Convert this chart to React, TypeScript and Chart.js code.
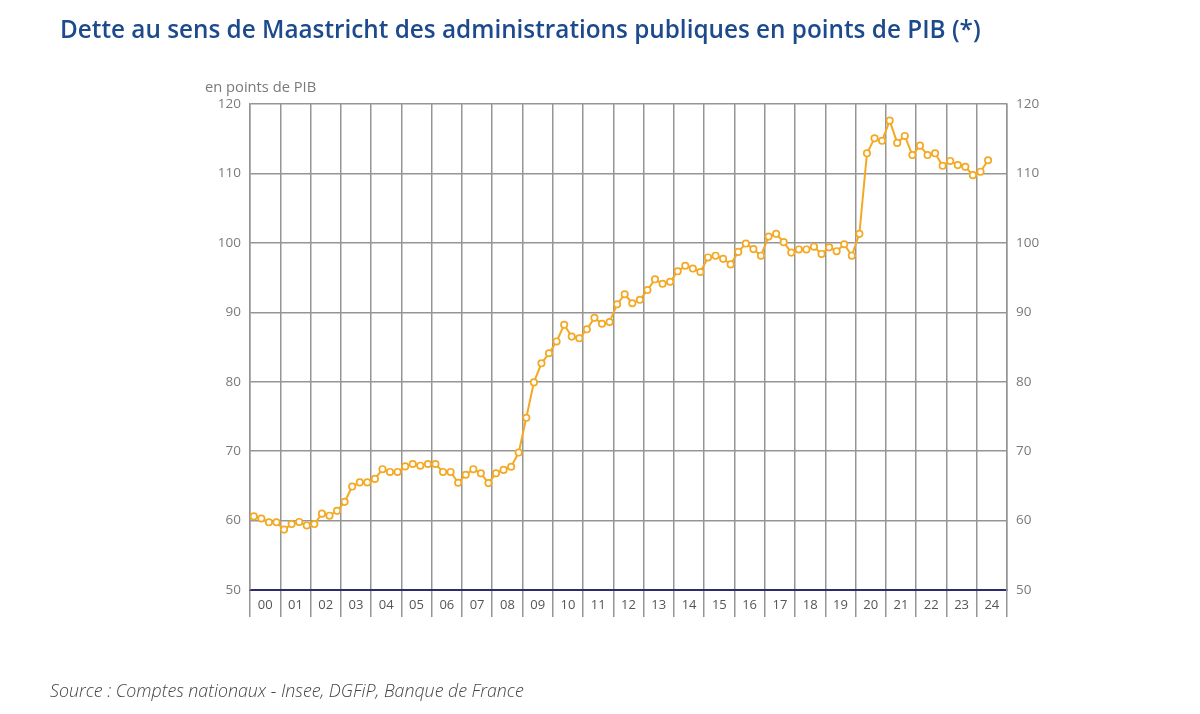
import React, { useEffect, useRef } from "react";
import { Chart, registerables } from "chart.js";

Chart.register(...registerables);

const yearLabels = ["00","01","02","03","04","05","06","07","08","09","10","11","12","13","14","15","16","17","18","19","20","21","22","23","24"];

// Quarterly debt ratio, 2000 Q1 .. 2024 Q2
const debtValues = [
  60.6, 60.3, 59.75, 59.75,
  58.7, 59.5, 59.8, 59.3,
  59.5, 61.0, 60.7, 61.4,
  62.7, 64.9, 65.5, 65.5,
  66.0, 67.4, 67.0, 67.0,
  67.8, 68.15, 67.9, 68.15,
  68.15, 67.0, 67.0, 65.45,
  66.6, 67.4, 66.8, 65.4,
  66.8, 67.3, 67.75, 69.8,
  74.8, 79.9, 82.65, 84.1,
  85.8, 88.2, 86.5, 86.25,
  87.55, 89.2, 88.35, 88.6,
  91.15, 92.6, 91.3, 91.8,
  93.2, 94.75, 94.1, 94.4,
  95.9, 96.7, 96.3, 95.8,
  97.9, 98.15, 97.7, 96.9,
  98.7, 99.9, 99.1, 98.15,
  100.9, 101.3, 100.1, 98.6,
  99.05, 99.05, 99.45, 98.4,
  99.35, 98.8, 99.8, 98.15,
  101.3, 112.9, 115.05, 114.7,
  117.6, 114.4, 115.4, 112.65,
  114.0, 112.65, 112.9, 111.1,
  111.8, 111.2, 110.95, 109.75,
  110.25, 111.9,
];

const yTicks = [50, 60, 70, 80, 90, 100, 110, 120];

const GRID = "#959595";
const NAVY = "#2d2a70";
const LINE = "#f4a925";
const TICK_COLOR = "#7a7a7a";

export default function App() {
  const ref = useRef<HTMLCanvasElement | null>(null);

  useEffect(() => {
    if (!ref.current) return;
    const points = debtValues.map((v, i) => ({ x: (i + 0.5) / 4, y: v }));
    const chart = new Chart(ref.current, {
      type: "line",
      data: {
        datasets: [
          {
            data: points,
            borderColor: LINE,
            borderWidth: 2,
            pointRadius: 3.2,
            pointBorderWidth: 1.7,
            pointBackgroundColor: "#ffffff",
            pointBorderColor: LINE,
            tension: 0,
            yAxisID: "y",
          },
        ],
      },
      options: {
        animation: false,
        responsive: false,
        maintainAspectRatio: false,
        layout: { padding: { left: 0, right: 0, top: 104, bottom: 0 } },
        plugins: { legend: { display: false }, tooltip: { enabled: false } },
        scales: {
          x: {
            type: "linear",
            min: 0,
            max: yearLabels.length,
            afterBuildTicks: (scale: any) => {
              const t: any[] = [];
              for (let i = 0; i <= yearLabels.length * 2; i++) t.push({ value: i / 2 });
              scale.ticks = t;
            },
            afterFit: (scale: any) => {
              scale.height = 124;
            },
            grid: {
              color: (ctx: any) => (Number.isInteger(ctx.tick?.value) ? GRID : "rgba(0,0,0,0)"),
              tickColor: (ctx: any) => (Number.isInteger(ctx.tick?.value) ? GRID : "rgba(0,0,0,0)"),
              lineWidth: 1.5,
              tickLength: 27,
              drawTicks: true,
            },
            border: { color: NAVY, width: 2 },
            ticks: {
              autoSkip: false,
              maxRotation: 0,
              padding: -20,
              color: "#555555",
              font: { family: "Open Sans", size: 13 },
              callback: (v: any) => {
                const n = Number(v);
                if (Number.isInteger(n)) return "";
                return yearLabels[Math.floor(n)] ?? "";
              },
            },
          },
          y: {
            position: "left",
            min: 50,
            max: 120,
            afterBuildTicks: (scale: any) => {
              scale.ticks = yTicks.map((v) => ({ value: v }));
            },
            afterFit: (scale: any) => {
              scale.width = 250;
            },
            grid: { color: GRID, lineWidth: 1.5, drawTicks: false },
            border: { color: GRID, width: 1.5 },
            ticks: {
              padding: 9,
              color: TICK_COLOR,
              font: { family: "Open Sans", size: 13.5 },
            },
          },
          y2: {
            position: "right",
            min: 50,
            max: 120,
            afterBuildTicks: (scale: any) => {
              scale.ticks = yTicks.map((v) => ({ value: v }));
            },
            afterFit: (scale: any) => {
              scale.width = 193;
            },
            grid: { display: false, drawTicks: false },
            border: { color: GRID, width: 1.5 },
            ticks: {
              padding: 9,
              color: TICK_COLOR,
              font: { family: "Open Sans", size: 13.5 },
            },
          },
        },
      },
    });
    return () => chart.destroy();
  }, []);

  return (
    <div
      style={{
        position: "fixed",
        left: 0,
        top: 0,
        width: 1200,
        height: 714,
        background: "#ffffff",
        overflow: "hidden",
        fontFamily: "'Open Sans', sans-serif",
      }}
    >
      <canvas ref={ref} width={1200} height={714} style={{ position: "absolute", left: 0, top: 0 }} />
      <div
        style={{
          position: "absolute",
          left: 60,
          top: 12,
          fontSize: 24.3,
          lineHeight: "34px",
          fontWeight: 600,
          color: "#1d4a8c",
          whiteSpace: "nowrap",
        }}
      >
        Dette au sens de Maastricht des administrations publiques en points de PIB (*)
      </div>
      <div
        style={{
          position: "absolute",
          left: 205,
          top: 76,
          fontSize: 14.7,
          lineHeight: "20px",
          color: "#7a7a7a",
          whiteSpace: "nowrap",
        }}
      >
        en points de PIB
      </div>
      <div
        style={{
          position: "absolute",
          left: 50,
          top: 678,
          fontSize: 17.8,
          lineHeight: "24px",
          fontStyle: "italic",
          fontWeight: 300,
          color: "#444444",
          whiteSpace: "nowrap",
        }}
      >
        Source : Comptes nationaux - Insee, DGFiP, Banque de France
      </div>
    </div>
  );
}
